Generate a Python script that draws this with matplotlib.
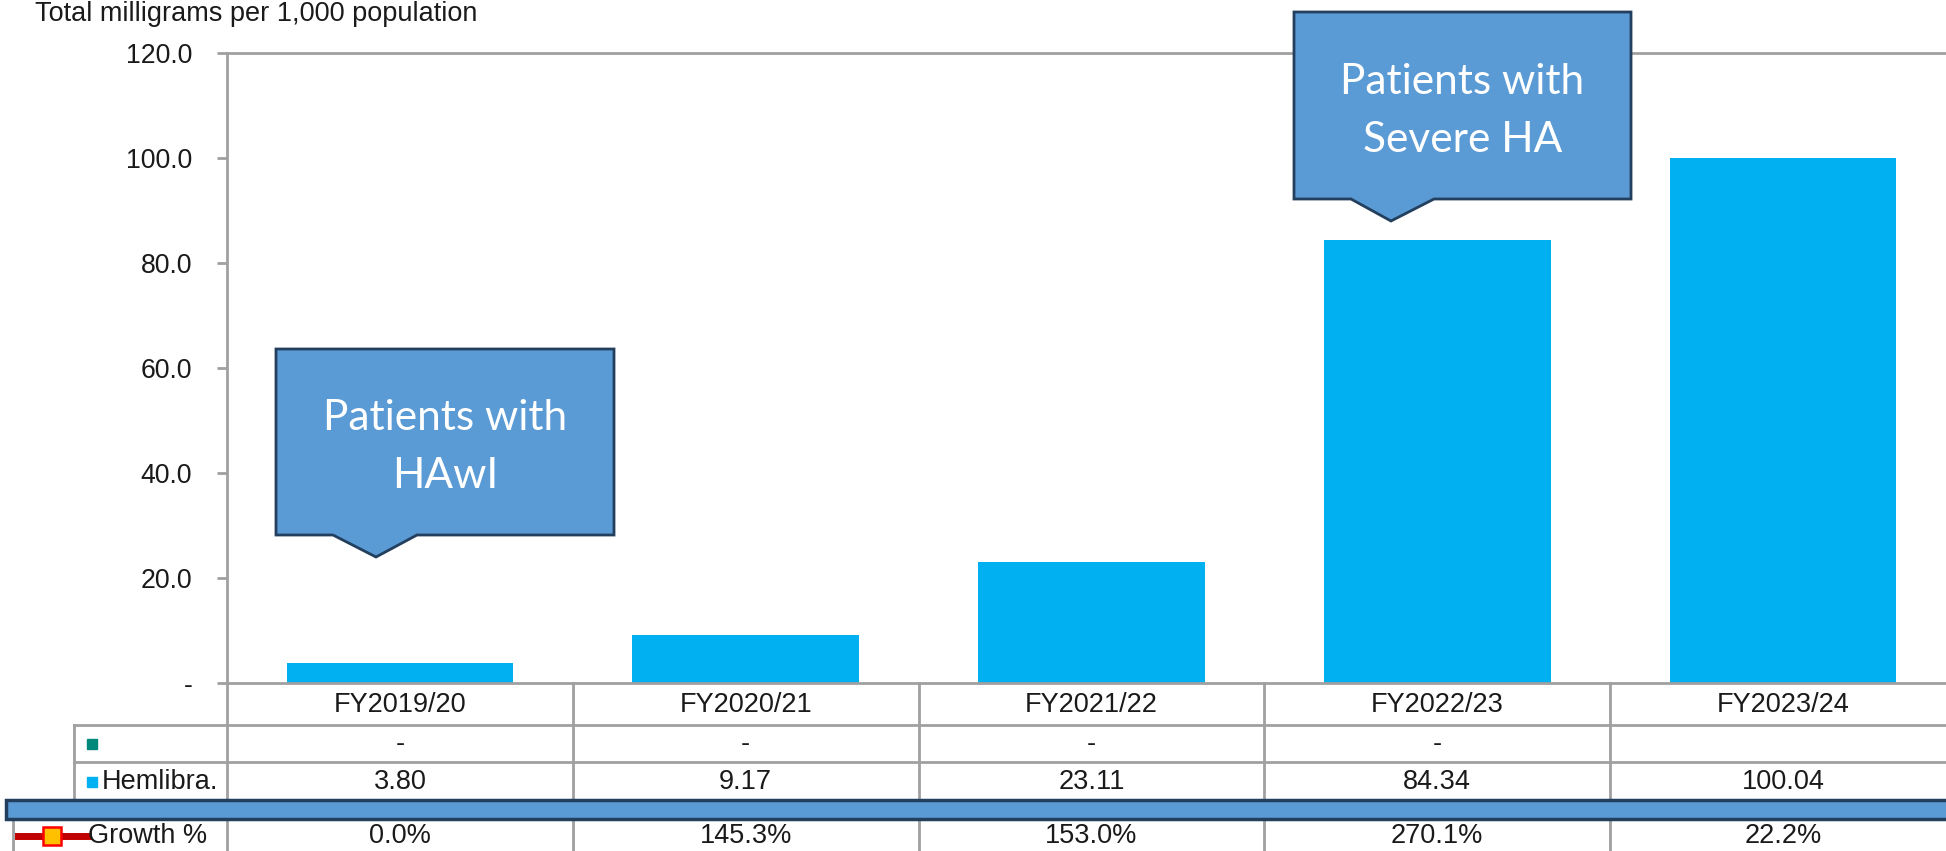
import matplotlib
matplotlib.use("Agg")
import matplotlib.pyplot as plt
from matplotlib.patches import Polygon, Rectangle
from matplotlib.lines import Line2D

# ---- data ----
categories = ["FY2019/20", "FY2020/21", "FY2021/22", "FY2022/23", "FY2023/24"]
hemlibra = [3.80, 9.17, 23.11, 84.34, 100.04]
other_row = ["-", "-", "-", "-", ""]
growth = ["0.0%", "145.3%", "153.0%", "270.1%", "22.2%"]
yticks = [0, 20, 40, 60, 80, 100, 120]
title = "Total milligrams per 1,000 population"
callout1 = "Patients with\nHAwI"
callout2 = "Patients with\nSevere HA"

W, H = 1946, 851
plt.rcParams['font.family'] = ['Liberation Sans', 'DejaVu Sans']
fig = plt.figure(figsize=(W / 100, H / 100), dpi=100)

def fx(px):
    return px / W

def fy(py):
    return 1 - py / H

GRID = '#A0A0A0'
BAR = '#00B0F0'
BOXF = '#5B9BD5'
BOXE = '#233F5E'
TXT = '#1a1a1a'

# main axes: left spine x=227, right edge ~1956, y0 at 683, y120 at 53
left, right, top, bot = 227, 1956, 53, 683
ax = fig.add_axes([fx(left), fy(bot), fx(right - left), (bot - top) / H])
x = list(range(len(categories)))
ax.bar(x, hemlibra, width=0.655, color=BAR, zorder=2)
ax.set_xlim(-0.5, len(categories) - 0.5)
ax.set_ylim(0, 120)
ax.set_yticks(yticks)
ax.set_yticklabels(["-" if v == 0 else f"{v:.1f}" for v in yticks], fontsize=19.2, color=TXT)
ax.tick_params(axis='y', length=7, width=2, color=GRID, pad=18)
ax.set_xticks([])
ax.spines['right'].set_visible(False)
for s in ['left', 'top', 'bottom']:
    ax.spines[s].set_color(GRID)
    ax.spines[s].set_linewidth(2)

fig.text(fx(35), fy(21), title, fontsize=19.5, color=TXT, va='baseline', ha='left')

# ---- data table below ----
tax = fig.add_axes([fx(left), 0, fx(right - left), (H - bot) / H])
tax.set_xlim(-0.5, len(categories) - 0.5)
tax.set_ylim(H, bot)
tax.axis('off')
lw = 2
n = len(categories)
r_head = (683, 725)
r_a = (725, 762)
r_b = (762, 801)
band = (800, 819)
px2d = lambda px: -0.5 - (left - px) / 346.0
xl_lab = px2d(74)
xl_g = px2d(13)

for i in range(n + 1):
    tax.add_line(Line2D([i - 0.5, i - 0.5], [683, 851], color=GRID, lw=lw, clip_on=False))
tax.add_line(Line2D([xl_lab, n - 0.5], [725, 725], color=GRID, lw=lw, clip_on=False))
tax.add_line(Line2D([xl_lab, n - 0.5], [762, 762], color=GRID, lw=lw, clip_on=False))
tax.add_line(Line2D([xl_lab, xl_lab], [725, 802], color=GRID, lw=lw, clip_on=False))
tax.add_line(Line2D([xl_g, xl_g], [819, 851], color=GRID, lw=lw, clip_on=False))

fs = 19.5
for i in range(n):
    tax.text(i, sum(r_head) / 2 + 1, categories[i], ha='center', va='center', fontsize=fs, color=TXT)
    tax.text(i, sum(r_a) / 2, other_row[i], ha='center', va='center', fontsize=fs, color=TXT)
    tax.text(i, sum(r_b) / 2, f"{hemlibra[i]:.2f}", ha='center', va='center', fontsize=fs, color=TXT)
    tax.text(i, 836, growth[i], ha='center', va='center', fontsize=fs, color=TXT)

# row labels
tax.plot([px2d(92)], [sum(r_a) / 2], marker='s', ms=6.5, color='#00897B', clip_on=False, ls='none')
tax.plot([px2d(92)], [sum(r_b) / 2], marker='s', ms=6.5, color=BAR, clip_on=False, ls='none')
tax.text(px2d(102), sum(r_b) / 2, "Hemlibra.", ha='left', va='center', fontsize=fs, clip_on=False, color=TXT)
tax.add_line(Line2D([px2d(18), px2d(88)], [836, 836], color='#C00000', lw=5, clip_on=False))
tax.plot([px2d(52)], [836], marker='s', ms=13.5, mfc='#FFC000', mec='#FF0000', mew=1.8, clip_on=False, ls='none')
tax.text(px2d(88), 836, "Growth %", ha='left', va='center', fontsize=fs, clip_on=False, color=TXT)

# blue band across table
fig.patches.append(Rectangle((fx(6), fy(band[1])), fx(1960 - 6), (band[1] - band[0]) / H,
                             transform=fig.transFigure, facecolor=BOXF, edgecolor=BOXE, lw=2.5, zorder=5))

# ---- callouts ----
def callout(x0, x1, y0, y1, b0, b1, tipx, tipy, text, ty):
    pts = [(x0, y0), (x1, y0), (x1, y1), (b1, y1), (tipx, tipy), (b0, y1), (x0, y1)]
    poly = Polygon([(fx(a), fy(b)) for a, b in pts], closed=True, transform=fig.transFigure,
                   facecolor=BOXF, edgecolor=BOXE, lw=2, zorder=10)
    fig.patches.append(poly)
    fig.text(fx((x0 + x1) / 2), fy(ty), text, ha='center', va='center', color='white',
             fontsize=30.5, family=['Lato', 'DejaVu Sans'], linespacing=1.65, zorder=11)

callout(276, 614, 349, 535, 333, 417, 376, 557, callout1, 447)
callout(1294, 1631, 12, 199, 1351, 1434, 1391, 221, callout2, 111)

fig.savefig("out.png", dpi=100)
